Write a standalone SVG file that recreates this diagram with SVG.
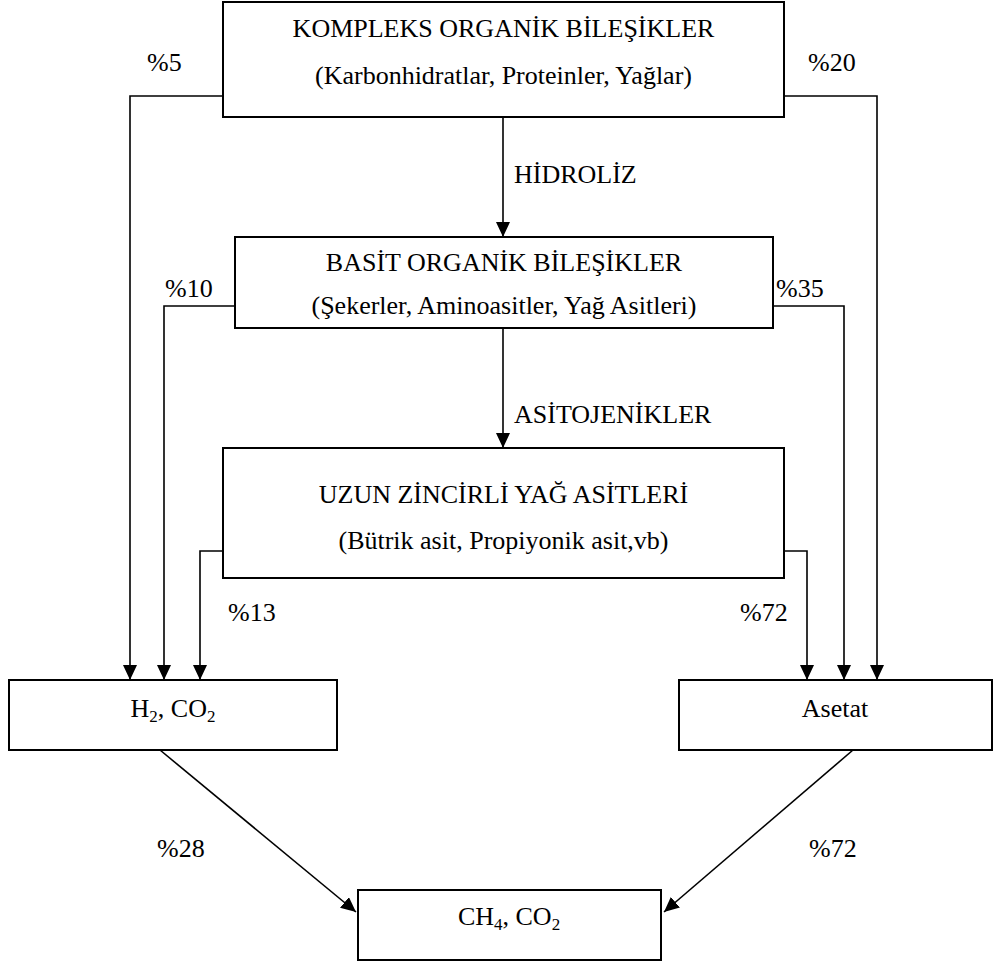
<svg xmlns="http://www.w3.org/2000/svg" width="1002" height="963" viewBox="0 0 1002 963">
<style>
.box{fill:#fff;stroke:#000;stroke-width:2}
.t{font-size:26px;fill:#000}
.c{text-anchor:middle}
.ln{fill:none;stroke:#000;stroke-width:1.6}
</style>
<defs>
<marker id="ah" markerUnits="userSpaceOnUse" markerWidth="16" markerHeight="14" refX="15" refY="7" orient="auto">
<path d="M0,0 L15,7 L0,14 z" fill="#000"/>
</marker>
</defs>
<rect width="1002" height="963" fill="#fff"/>
<g id="connectors" font-family="'Liberation Serif', 'Times New Roman', Tinos, 'DejaVu Serif', serif">
<polyline class="ln" points="223,96 130,96 130,680" marker-end="url(#ah)"/>
<polyline class="ln" points="235,306 164,306 164,680" marker-end="url(#ah)"/>
<polyline class="ln" points="223,551 200,551 200,680" marker-end="url(#ah)"/>
<polyline class="ln" points="784,96 877,96 877,680" marker-end="url(#ah)"/>
<polyline class="ln" points="773,306 844,306 844,680" marker-end="url(#ah)"/>
<polyline class="ln" points="784,551 807,551 807,680" marker-end="url(#ah)"/>
<line class="ln" x1="503" y1="117" x2="503" y2="237" marker-end="url(#ah)"/>
<line class="ln" x1="503" y1="328" x2="503" y2="448" marker-end="url(#ah)"/>
<line class="ln" x1="160" y1="750" x2="356" y2="912" marker-end="url(#ah)"/>
<line class="ln" x1="853" y1="750" x2="664" y2="912" marker-end="url(#ah)"/>
<text class="t" x="147" y="71">%5</text>
<text class="t" x="808" y="71">%20</text>
<text class="t" x="514" y="183">HİDROLİZ</text>
<text class="t" x="165" y="297">%10</text>
<text class="t" x="776" y="297">%35</text>
<text class="t" x="514" y="423">ASİTOJENİKLER</text>
<text class="t" x="228" y="621">%13</text>
<text class="t" x="740" y="621">%72</text>
<text class="t" x="157" y="857">%28</text>
<text class="t" x="809" y="857">%72</text>
</g>
<g id="kompleks" font-family="'Liberation Serif', 'Times New Roman', Tinos, 'DejaVu Serif', serif">
<rect class="box" x="223" y="2" width="561" height="115"/>
<text class="t c" x="503.5" y="37">KOMPLEKS ORGANİK BİLEŞİKLER</text>
<text class="t c" x="503.5" y="84">(Karbonhidratlar, Proteinler, Yağlar)</text>
</g>
<g id="basit" font-family="'Liberation Serif', 'Times New Roman', Tinos, 'DejaVu Serif', serif">
<rect class="box" x="235" y="237" width="538" height="91"/>
<text class="t c" x="504" y="271">BASİT ORGANİK BİLEŞİKLER</text>
<text class="t c" x="504" y="314">(Şekerler, Aminoasitler, Yağ Asitleri)</text>
</g>
<g id="uzun" font-family="'Liberation Serif', 'Times New Roman', Tinos, 'DejaVu Serif', serif">
<rect class="box" x="223" y="448" width="561" height="130"/>
<text class="t c" x="503.5" y="503">UZUN ZİNCİRLİ YAĞ ASİTLERİ</text>
<text class="t c" x="503.5" y="549">(Bütrik asit, Propiyonik asit,vb)</text>
</g>
<g id="h2co2" font-family="'Liberation Serif', 'Times New Roman', Tinos, 'DejaVu Serif', serif">
<rect class="box" x="9" y="680" width="328" height="70"/>
<text class="t c" x="173" y="717">H<tspan font-size="17" dy="5">2</tspan><tspan dy="-5">, CO</tspan><tspan font-size="17" dy="5">2</tspan></text>
</g>
<g id="asetat" font-family="'Liberation Serif', 'Times New Roman', Tinos, 'DejaVu Serif', serif">
<rect class="box" x="679" y="680" width="313" height="70"/>
<text class="t c" x="835" y="717">Asetat</text>
</g>
<g id="ch4co2" font-family="'Liberation Serif', 'Times New Roman', Tinos, 'DejaVu Serif', serif">
<rect class="box" x="358" y="890" width="303" height="70"/>
<text class="t c" x="509" y="925">CH<tspan font-size="17" dy="5">4</tspan><tspan dy="-5">, CO</tspan><tspan font-size="17" dy="5">2</tspan></text>
</g>
</svg>
